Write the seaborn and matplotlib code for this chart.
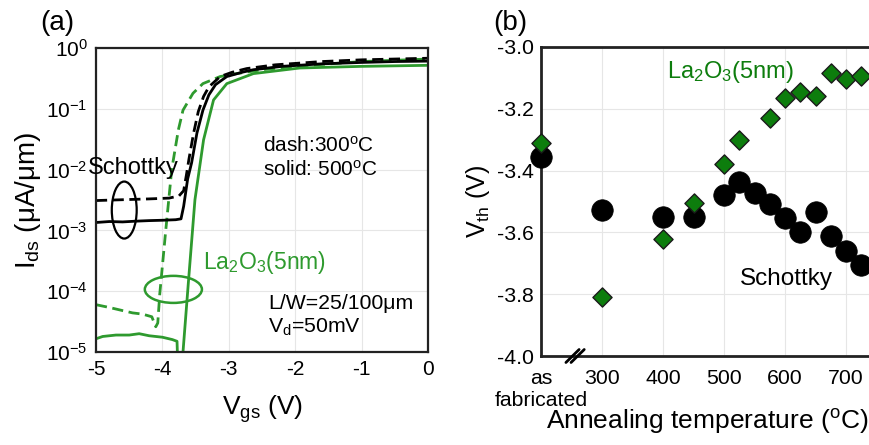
import matplotlib.pyplot as plt
import matplotlib.patches as mpatches
import seaborn as sns

# (a) Ids-Vgs transfer curves
vgs_sch_500 = [-5, -4.8, -4.6, -4.4, -4.2, -4.0, -3.8, -3.72, -3.68, -3.62, -3.56, -3.48, -3.39,
               -3.3, -3.2, -3.03, -2.8, -2.63, -2.2, -1.6, -1.0, -0.5, 0]
ids_sch_500 = [1.35e-3, 1.4e-3, 1.38e-3, 1.42e-3, 1.45e-3, 1.47e-3, 1.5e-3, 1.55e-3, 2.5e-3, 7e-3,
               1.3e-2, 4e-2, 9.5e-2, 0.17, 0.25, 0.34, 0.4, 0.44, 0.5, 0.55, 0.58, 0.6, 0.61]

vgs_sch_300 = [-5, -4.6, -4.2, -3.9, -3.75, -3.68, -3.64, -3.6, -3.53, -3.46, -3.38, -3.3, -3.13,
               -2.95, -2.73, -2.3, -1.6, -1.0, -0.5, 0]
ids_sch_300 = [3.1e-3, 3.2e-3, 3.3e-3, 3.4e-3, 3.7e-3, 4.5e-3, 8e-3, 1.5e-2, 4e-2, 9e-2, 0.16, 0.23,
               0.34, 0.4, 0.46, 0.53, 0.6, 0.64, 0.66, 0.68]

vgs_la_300 = [-5, -4.8, -4.6, -4.45, -4.3, -4.16, -4.1, -4.07, -4.04, -3.95, -3.86, -3.76, -3.69,
              -3.54, -3.39, -3.13, -2.88, -2.5, -2.0, -1.0, 0]
ids_la_300 = [6e-5, 5.4e-5, 4.8e-5, 4.4e-5, 4.2e-5, 3.8e-5, 2.6e-5, 3e-5, 9e-5, 1e-3, 1e-2, 4.5e-2,
              9.5e-2, 0.18, 0.26, 0.34, 0.38, 0.44, 0.5, 0.6, 0.66]

vgs_la_500 = [-5, -4.9, -4.7, -4.5, -4.35, -4.2, -4.0, -3.85, -3.78, -3.76, -3.72, -3.69, -3.61,
              -3.51, -3.38, -3.23, -3.03, -2.63, -1.93, -1.0, 0]
ids_la_500 = [1.65e-5, 1.8e-5, 1.9e-5, 1.9e-5, 2.0e-5, 1.85e-5, 1.75e-5, 1.6e-5, 1.5e-5, 3e-6, 3e-6,
              1e-5, 1.35e-4, 3.2e-3, 3.1e-2, 0.14, 0.26, 0.38, 0.47, 0.5, 0.52]

# (b) threshold voltage vs annealing temperature ("as fabricated" sits at 200)
temp_sch = [200, 300, 400, 450, 500, 525, 550, 575, 600, 625, 650, 675, 700, 725]
vth_sch = [-3.355, -3.527, -3.549, -3.551, -3.479, -3.436, -3.474, -3.508, -3.554, -3.6, -3.535,
           -3.612, -3.659, -3.705]
temp_la = [200, 300, 400, 450, 500, 525, 575, 600, 625, 650, 675, 700, 725]
vth_la = [-3.31, -3.81, -3.622, -3.506, -3.38, -3.301, -3.231, -3.166, -3.145, -3.159, -3.085,
          -3.104, -3.093]

temp_ticks = [200, 300, 400, 500, 600, 700]
temp_labels = ['as\nfabricated', '300', '400', '500', '600', '700']

sns.set_style('whitegrid', {'grid.color': '#e6e6e6', 'axes.edgecolor': 'black'})
plt.rcParams['font.family'] = ['Liberation Sans', 'DejaVu Sans']
plt.rcParams['mathtext.fontset'] = 'custom'
plt.rcParams['mathtext.rm'] = 'Liberation Sans'
plt.rcParams['mathtext.it'] = 'Liberation Sans:italic'
plt.rcParams['mathtext.default'] = 'regular'
plt.rcParams['axes.unicode_minus'] = False
for key in ('text.color', 'axes.labelcolor', 'xtick.color', 'ytick.color'):
    plt.rcParams[key] = 'black'

green_line = '#2e9a2e'
green_mark = '#0d7d0d'

fig = plt.figure(figsize=(8.69, 4.45), dpi=100)
ax1 = fig.add_axes([0.1105, 0.209, 0.382, 0.683])
ax2 = fig.add_axes([0.6226, 0.2, 0.4212, 0.6944])

# ---- panel (a)
sns.lineplot(x=vgs_la_300, y=ids_la_300, ax=ax1, color=green_line, lw=2,
             linestyle=(0, (4, 2)), sort=False, estimator=None)
sns.lineplot(x=vgs_la_500, y=ids_la_500, ax=ax1, color=green_line, lw=2,
             sort=False, estimator=None)
sns.lineplot(x=vgs_sch_300, y=ids_sch_300, ax=ax1, color='black', lw=2,
             linestyle=(0, (4, 2)), sort=False, estimator=None)
sns.lineplot(x=vgs_sch_500, y=ids_sch_500, ax=ax1, color='black', lw=2,
             sort=False, estimator=None)
ax1.set_yscale('log')
ax1.set_xlim(-5, 0)
ax1.set_ylim(1e-5, 1)
ax1.set_xticks([-5, -4, -3, -2, -1, 0])
ax1.set_xticklabels(['-5', '-4', '-3', '-2', '-1', '0'])
ax1.set_yticks([1e-5, 1e-4, 1e-3, 1e-2, 1e-1, 1])
ax1.set_yticklabels(['10$^{-5}$', '10$^{-4}$', '10$^{-3}$', '10$^{-2}$', '10$^{-1}$', '10$^{0}$'])
ax1.minorticks_off()
ax1.tick_params(length=0, labelsize=15, pad=6)
ax1.set_xlabel('V$_{gs}$ (V)', fontsize=19, labelpad=10)
ax1.set_ylabel('I$_{ds}$ (μA/μm)', fontsize=20, labelpad=2)
for s in ax1.spines.values():
    s.set_linewidth(1.6)
    s.set_color('#222222')

ax1.add_patch(mpatches.Ellipse((0.085, 0.467), 0.075, 0.1875, transform=ax1.transAxes,
                               fill=False, ec='black', lw=1.6))
ax1.add_patch(mpatches.Ellipse((0.233, 0.206), 0.172, 0.089, transform=ax1.transAxes,
                               fill=False, ec=green_line, lw=1.8))
ax1.text(-0.024, 0.605, 'Schottky', transform=ax1.transAxes, fontsize=17, va='center')
ax1.text(0.503, 0.678, 'dash:300$^{o}$C', transform=ax1.transAxes, fontsize=15, va='center')
ax1.text(0.503, 0.599, 'solid: 500$^{o}$C', transform=ax1.transAxes, fontsize=15, va='center')
ax1.text(0.322, 0.293, 'La$_2$O$_3$(5nm)', transform=ax1.transAxes, fontsize=16.5,
         va='center', color=green_line)
ax1.text(0.518, 0.161, 'L/W=25/100μm', transform=ax1.transAxes, fontsize=15.3, va='center')
ax1.text(0.518, 0.082, 'V$_d$=50mV', transform=ax1.transAxes, fontsize=15.3, va='center')

# ---- panel (b)
sns.scatterplot(x=temp_sch, y=vth_sch, ax=ax2, marker='o', s=240, color='black',
                edgecolor='black', linewidth=0.5, zorder=3, clip_on=False)
sns.scatterplot(x=temp_la, y=vth_la, ax=ax2, marker='D', s=95, color=green_mark,
                edgecolor='#1a1a1a', linewidth=1, zorder=4, clip_on=False)
ax2.set_xlim(200, 800)
ax2.set_ylim(-4.0, -3.0)
ax2.set_xticks(temp_ticks)
ax2.set_xticklabels(temp_labels)
ax2.set_yticks([-4.0, -3.8, -3.6, -3.4, -3.2, -3.0])
ax2.set_yticklabels(['-4.0', '-3.8', '-3.6', '-3.4', '-3.2', '-3.0'])
ax2.tick_params(axis='y', length=0, labelsize=15.3, pad=5)
ax2.tick_params(axis='x', length=0, labelsize=15.3, pad=9)
ax2.set_xlabel('Annealing temperature ($^{o}$C)', fontsize=19)
ax2.xaxis.set_label_coords(0.453, -0.165)
ax2.set_ylabel('V$_{th}$ (V)', fontsize=18, labelpad=4)
for s in ax2.spines.values():
    s.set_linewidth(2)
    s.set_color('#222222')

# axis break mark
for dx in (-0.007, 0.007):
    ax2.plot([0.093 + dx - 0.018, 0.093 + dx + 0.018], [-0.021, 0.021], transform=ax2.transAxes,
             color='black', lw=2, clip_on=False, zorder=5)

ax2.text(406, -3.081, 'La$_2$O$_3$(5nm)', fontsize=17, va='center', color=green_mark)
ax2.text(526, -3.751, 'Schottky', fontsize=17.5, va='center')

fig.text(40 / 869, 1 - 23 / 445, '(a)', fontsize=20, va='center')
fig.text(493 / 869, 1 - 23 / 445, '(b)', fontsize=20, va='center')

fig.savefig('out.png', dpi=100)
